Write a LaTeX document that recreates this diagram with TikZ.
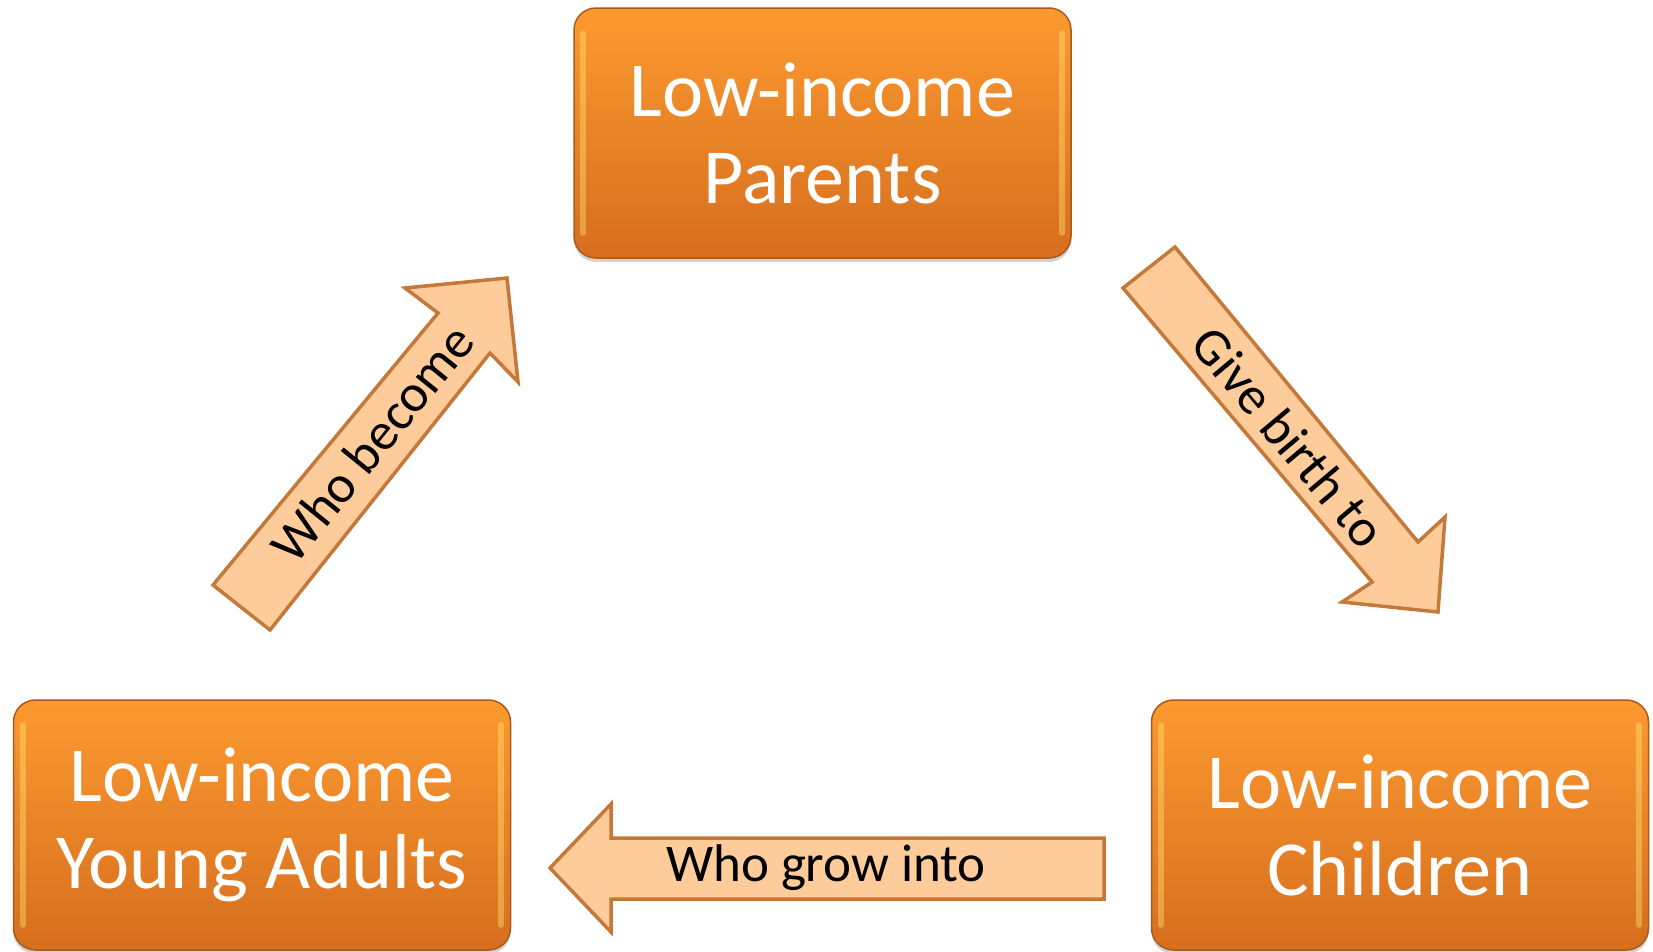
\documentclass[tikz,border=0pt]{standalone}
\usepackage{fontspec}
\setmainfont{Carlito}
\usetikzlibrary{shadows}
\definecolor{boxtop}{RGB}{252,154,48}
\definecolor{boxbot}{RGB}{214,110,30}
\definecolor{boxedge}{RGB}{170,90,25}
\definecolor{arrfill}{RGB}{253,204,154}
\definecolor{arredge}{RGB}{196,120,58}
\definecolor{glint}{RGB}{255,232,120}
\begin{document}
\begin{tikzpicture}[x=1pt,y=-1pt,
  box/.style={rounded corners=22pt, minimum width=497pt, minimum height=250pt,
    top color=boxtop, bottom color=boxbot, draw=boxedge, line width=1.5pt,
    text=white, align=center, font=\fontsize{78}{87}\selectfont, inner sep=0pt,
    drop shadow={shadow xshift=0pt, shadow yshift=-4pt, opacity=0.35}},
  glintline/.style={glint, line width=6pt, opacity=0.4, line cap=round},
  blockarrow/.style={fill=arrfill, draw=arredge, line width=3.5pt, line join=miter},
  arrtext/.style={font=\fontsize{53}{60}\selectfont, text=black, inner sep=0pt}]
\useasboundingbox (0,0) rectangle (1653,951);

\node[box] (par) at (822.5,133) {Low-income\\Parents};
\node[box] (yad) at (262,825) {Low-income\\Young Adults};
\node[box] (chi) at (1400,825) {Low-income\\Children};

\foreach \n in {par,yad,chi}{
  \draw[glintline] ([xshift=10pt,yshift=-26pt]\n.north west) -- ([xshift=10pt,yshift=26pt]\n.south west);
  \draw[glintline] ([xshift=-10pt,yshift=-26pt]\n.north east) -- ([xshift=-10pt,yshift=26pt]\n.south east);
}

% Who become
\draw[blockarrow] (213,585) -- (270,630) -- (490,353) -- (518,382) -- (507,278)
  -- (405,288) -- (438,313) -- cycle;
\node[arrtext, rotate=51] (tbecome) at (372,443) {Who become};

% Give birth to
\draw[blockarrow] (1123,288) -- (1175,247) -- (1418,542) -- (1445,517) -- (1438,612)
  -- (1342,602) -- (1372,582) -- cycle;
\node[arrtext, rotate=-50] (tbirth) at (1289,437) {Give birth to};

% Who grow into
\draw[blockarrow] (1104,838) -- (611,838) -- (611,804) -- (550,868) -- (611,932)
  -- (611,899) -- (1104,899) -- cycle;
\node[arrtext] (tgrow) at (826,868) {Who grow into};
\end{tikzpicture}
\end{document}
